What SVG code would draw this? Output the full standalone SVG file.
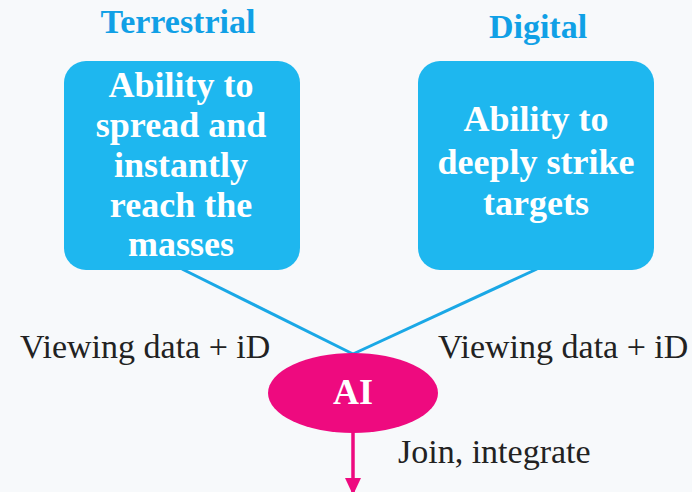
<svg xmlns="http://www.w3.org/2000/svg" width="692" height="492" viewBox="0 0 692 492">
<defs>
<style>
.title{font-family:"Liberation Serif","Times New Roman",serif;font-weight:bold;font-size:34px;fill:#10a0e6;text-anchor:middle}
.box{fill:#1eb7ef}
.bt{font-family:"Liberation Serif","Times New Roman",serif;font-weight:bold;font-size:36px;fill:#ffffff;text-anchor:middle}
.lbl{font-family:"Liberation Serif","Times New Roman",serif;font-size:34px;fill:#222222}
.conn{stroke:#1aa8e6;stroke-width:3;fill:none}
</style>
<marker id="arr" markerWidth="17" markerHeight="16" refX="17" refY="8" orient="auto" markerUnits="userSpaceOnUse" viewBox="0 0 17 16">
<path d="M0,0 L17,8 L0,16 Z" fill="#ee0a7f"/>
</marker>
</defs>
<rect width="692" height="492" fill="#f7f9fb"/>
<g id="connectors">
<line class="conn" x1="182" y1="269" x2="353" y2="354"/>
<line class="conn" x1="537" y1="269" x2="353" y2="354"/>
<line x1="353" y1="432" x2="353" y2="495" stroke="#ee0a7f" stroke-width="3.5" marker-end="url(#arr)"/>
</g>
<g id="title-terrestrial"><text class="title" x="178" y="33">Terrestrial</text></g>
<g id="title-digital"><text class="title" x="538" y="38">Digital</text></g>
<g id="node-terrestrial">
<rect class="box" x="64" y="61" width="236" height="209" rx="22"/>
<text class="bt" x="181" y="97">Ability to</text>
<text class="bt" x="181" y="137">spread and</text>
<text class="bt" x="181" y="177">instantly</text>
<text class="bt" x="181" y="217">reach the</text>
<text class="bt" x="181" y="256">masses</text>
</g>
<g id="node-digital">
<rect class="box" x="418" y="61" width="236" height="209" rx="22"/>
<text class="bt" x="536" y="131">Ability to</text>
<text class="bt" x="536" y="174">deeply strike</text>
<text class="bt" x="536" y="215">targets</text>
</g>
<g id="label-left"><text class="lbl" x="20" y="358">Viewing data + iD</text></g>
<g id="label-right"><text class="lbl" x="438" y="358">Viewing data + iD</text></g>
<g id="node-ai">
<ellipse cx="353" cy="393" rx="85" ry="40" fill="#ee0a7f"/>
<text class="bt" x="353" y="404">AI</text>
</g>
<g id="label-join"><text class="lbl" x="398" y="463">Join, integrate</text></g>
</svg>
